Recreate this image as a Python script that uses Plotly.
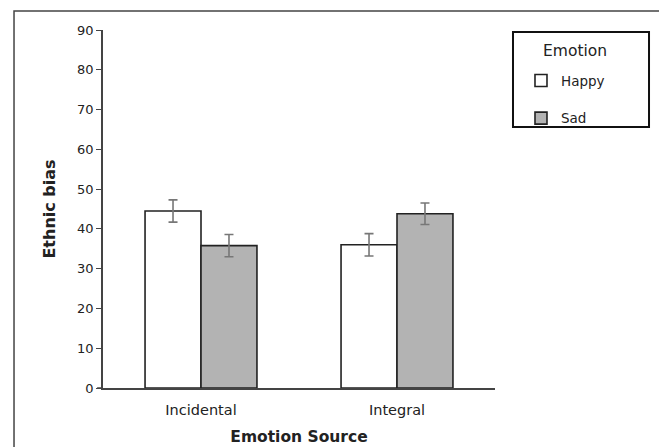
import plotly.graph_objects as go

categories = ["Incidental", "Integral"]
happy_vals = [44.5, 36.0]
sad_vals = [35.8, 43.8]
happy_err = [2.8, 2.8]
sad_err = [2.8, 2.7]
y_ticks = [0, 10, 20, 30, 40, 50, 60, 70, 80, 90]
legend_title = "Emotion"

FONT = "DejaVu Sans"

fig = go.Figure()
fig.add_trace(go.Bar(
    name="Happy", x=categories, y=happy_vals,
    marker=dict(color="white", line=dict(color="#222222", width=1.6)),
    error_y=dict(type="data", array=happy_err, color="#777777", thickness=1.6, width=4.5),
    legendgroup="a",
))
fig.add_trace(go.Bar(
    name="Sad", x=categories, y=sad_vals,
    marker=dict(color="#b3b3b3", line=dict(color="#222222", width=1.6)),
    error_y=dict(type="data", array=sad_err, color="#777777", thickness=1.6, width=4.5),
    legendgroup="b",
))

# page body has an 8px margin, so the figure is 8px smaller and shifted
fig.update_layout(
    width=659, height=439,
    margin=dict(l=95, r=172, t=22, b=59, autoexpand=False),
    paper_bgcolor="white", plot_bgcolor="white",
    barmode="group", bargap=0.429, bargroupgap=0,
    font=dict(family=FONT, color="#222222", size=13),
    showlegend=True,
    legend=dict(
        x=1.0663, y=0.9015, xanchor="left", yanchor="top",
        bgcolor="rgba(0,0,0,0)", borderwidth=0,
        font=dict(size=13.5, family=FONT),
        tracegroupgap=17, itemwidth=30,
    ),
    xaxis=dict(
        showline=True, linecolor="#444444", linewidth=1.5,
        ticks="", showgrid=False, zeroline=False, automargin=False,
        ticklabelstandoff=8,
        tickfont=dict(size=14.5, family=FONT),
        title=dict(text="<b>Emotion Source</b>", font=dict(size=15.5, family=FONT), standoff=14),
        range=[-0.5, 1.5],
    ),
    yaxis=dict(
        range=[0, 90], tickvals=y_ticks,
        showline=True, linecolor="#444444", linewidth=1.5,
        ticks="outside", ticklen=5, tickcolor="#444444",
        showgrid=False, zeroline=False, automargin=False,
        tickfont=dict(size=13, family=FONT),
        title=dict(text="<b>Ethnic bias</b>", font=dict(size=16, family=FONT), standoff=18),
    ),
    annotations=[dict(
        text=legend_title, xref="paper", yref="paper", x=1.204, y=0.9413,
        xanchor="center", yanchor="middle", showarrow=False,
        font=dict(size=15.5, family=FONT, color="#222222"),
    )],
    shapes=[
        dict(type="rect", xref="paper", yref="paper",
             x0=-0.227, x1=1.4235, y0=-0.2, y1=1.053,
             line=dict(color="#444444", width=1.5), fillcolor="rgba(0,0,0,0)", layer="below"),
        dict(type="rect", xref="paper", yref="paper",
             x0=1.0459, x1=1.3929, y0=0.729, y1=0.9944,
             line=dict(color="#111111", width=2), fillcolor="rgba(0,0,0,0)", layer="below"),
        dict(type="line", xref="paper", yref="paper",
             x0=-0.015, x1=0, y0=0, y1=0,
             line=dict(color="#444444", width=1.5)),
    ],
)

fig.write_html("out.html")
